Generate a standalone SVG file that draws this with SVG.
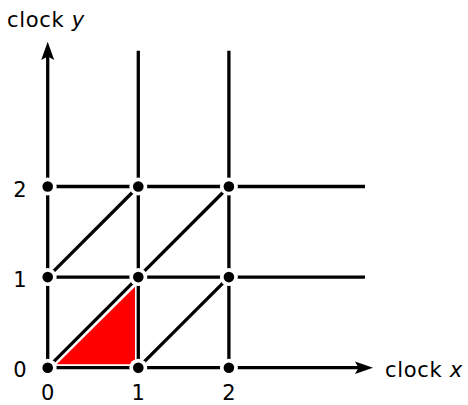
<svg xmlns="http://www.w3.org/2000/svg" width="468" height="405" viewBox="0 0 468 405">
<style>
.ln{stroke:#000;stroke-width:3.3;fill:none}
.halo{fill:#fff}
.dot{fill:#000}
.t{font-family:"DejaVu Sans","Liberation Sans",sans-serif;font-size:21px;fill:#000}
.c{letter-spacing:0.7px}
.i{font-style:italic}
</style>
<rect width="468" height="405" fill="#fff"/>
<polygon id="region" points="56.7,364.3 135,364.3 135,286.7" fill="#ff0000"/>
<g id="connectors">
<line class="ln" x1="47.7" y1="367.7" x2="47.7" y2="56"/>
<polygon points="47.7,41.7 54.2,60 47.7,56.5 41.2,60" fill="#000"/>
<line class="ln" x1="47.7" y1="367.7" x2="359" y2="367.7"/>
<polygon points="373,367.7 355,374 358.5,367.7 355,361.4" fill="#000"/>
<line class="ln" x1="138.3" y1="367.7" x2="138.3" y2="50.7"/>
<line class="ln" x1="228.9" y1="367.7" x2="228.9" y2="50.7"/>
<line class="ln" x1="47.7" y1="277.1" x2="365" y2="277.1"/>
<line class="ln" x1="47.7" y1="186.5" x2="365" y2="186.5"/>
<line class="ln" x1="47.7" y1="367.7" x2="138.3" y2="277.1"/>
<line class="ln" x1="138.3" y1="367.7" x2="228.9" y2="277.1"/>
<line class="ln" x1="47.7" y1="277.1" x2="138.3" y2="186.5"/>
<line class="ln" x1="138.3" y1="277.1" x2="228.9" y2="186.5"/>
</g>
<g id="n00"><circle class="halo" cx="47.7" cy="367.7" r="9"/><circle class="dot" cx="47.7" cy="367.7" r="5.3"/></g>
<g id="n10"><circle class="halo" cx="138.3" cy="367.7" r="9"/><circle class="dot" cx="138.3" cy="367.7" r="5.3"/></g>
<g id="n20"><circle class="halo" cx="228.9" cy="367.7" r="9"/><circle class="dot" cx="228.9" cy="367.7" r="5.3"/></g>
<g id="n01"><circle class="halo" cx="47.7" cy="277.1" r="9"/><circle class="dot" cx="47.7" cy="277.1" r="5.3"/></g>
<g id="n11"><circle class="halo" cx="138.3" cy="277.1" r="9"/><circle class="dot" cx="138.3" cy="277.1" r="5.3"/></g>
<g id="n21"><circle class="halo" cx="228.9" cy="277.1" r="9"/><circle class="dot" cx="228.9" cy="277.1" r="5.3"/></g>
<g id="n02"><circle class="halo" cx="47.7" cy="186.5" r="9"/><circle class="dot" cx="47.7" cy="186.5" r="5.3"/></g>
<g id="n12"><circle class="halo" cx="138.3" cy="186.5" r="9"/><circle class="dot" cx="138.3" cy="186.5" r="5.3"/></g>
<g id="n22"><circle class="halo" cx="228.9" cy="186.5" r="9"/><circle class="dot" cx="228.9" cy="186.5" r="5.3"/></g>
<g id="labels">
<text class="t c" x="7" y="26.7">clock <tspan class="i">y</tspan></text>
<text class="t c" x="385" y="376.7">clock <tspan class="i">x</tspan></text>
<text class="t" x="20" y="196.5" text-anchor="middle">2</text>
<text class="t" x="20" y="286.6" text-anchor="middle">1</text>
<text class="t" x="20" y="377.3" text-anchor="middle">0</text>
<text class="t" x="47.7" y="400" text-anchor="middle">0</text>
<text class="t" x="138.3" y="400" text-anchor="middle">1</text>
<text class="t" x="228.9" y="400" text-anchor="middle">2</text>
</g>
</svg>
